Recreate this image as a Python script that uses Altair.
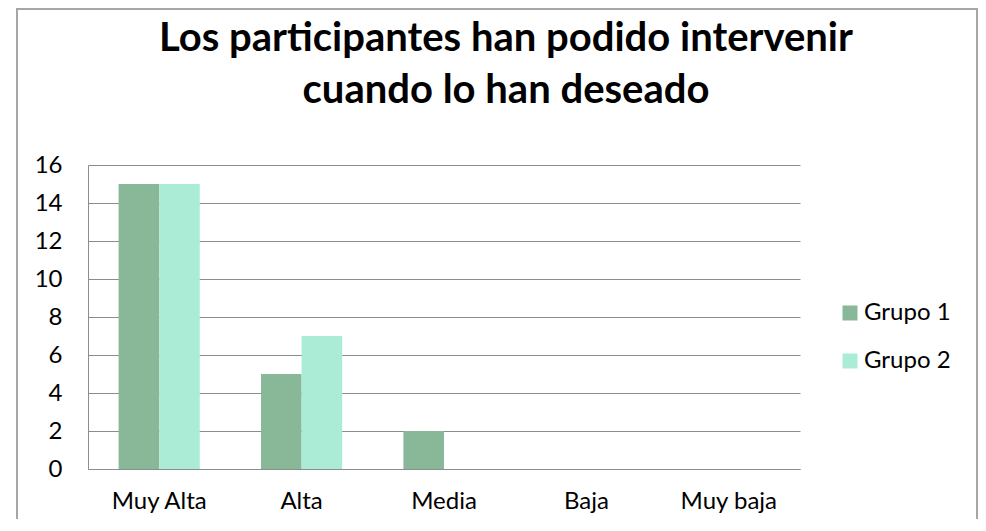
import altair as alt
import pandas as pd

categories = ["Muy Alta", "Alta", "Media", "Baja", "Muy baja"]
grupo1 = [15, 5, 2, 0, 0]
grupo2 = [15, 7, 0, 0, 0]
series = ["Grupo 1", "Grupo 2"]
colors = ["#88B898", "#ABECD6"]
y_ticks = [0, 2, 4, 6, 8, 10, 12, 14, 16]
title_lines = ["Los participantes han podido intervenir", "cuando lo han deseado"]

rows = []
for c, a, b in zip(categories, grupo1, grupo2):
    rows.append({"cat": c, "serie": series[0], "valor": a})
    rows.append({"cat": c, "serie": series[1], "valor": b})
df = pd.DataFrame(rows)

FONT = "Lato"

bars = alt.Chart(df).mark_bar().encode(
    x=alt.X("cat:N", sort=categories,
            scale=alt.Scale(paddingInner=0.43, paddingOuter=0.215),
            axis=alt.Axis(title=None, labelAngle=0, ticks=False, grid=False,
                          domainColor="#8c8c8c", labelPadding=20,
                          labelFontSize=24, labelFont=FONT, labelColor="#000")),
    xOffset=alt.XOffset("serie:N", sort=series, scale=alt.Scale(paddingInner=0, paddingOuter=0)),
    y=alt.Y("valor:Q", scale=alt.Scale(domain=[0, 16], nice=False),
            axis=alt.Axis(title=None, values=y_ticks, ticks=False, grid=True,
                          gridColor="#8c8c8c", domainColor="#8c8c8c",
                          labelPadding=26, labelFontSize=24, labelFont=FONT,
                          labelColor="#000")),
    color=alt.Color("serie:N", sort=series,
                    scale=alt.Scale(domain=series, range=colors),
                    legend=alt.Legend(title=None, orient="none", legendX=750, legendY=136,
                                      symbolType="square", symbolSize=225,
                                      symbolStrokeWidth=0, labelFontSize=24,
                                      labelFont=FONT, labelColor="#000",
                                      labelOffset=2, rowPadding=24, padding=0)),
)

frame = alt.Chart(pd.DataFrame({"k": [0]})).mark_rect(
    fill="transparent", stroke="#a6a6a6", strokeWidth=2
).encode(
    x=alt.value(-71), x2=alt.value(889), y=alt.value(-156), y2=alt.value(420)
)

chart = alt.layer(frame, bars).properties(
    width=712, height=304,
    padding={"left": 80, "top": 157, "right": 178, "bottom": 50},
    autosize=alt.AutoSizeParams(type="none"),
    title=alt.TitleParams(text=title_lines, font=FONT, fontSize=40, fontWeight="bold",
                          color="#000", anchor="middle", frame="group", dx=62, offset=-103,
                          lineHeight=52),
).configure_view(stroke="transparent")

chart.save("out.html", embed_options={"renderer": "svg", "actions": False})
